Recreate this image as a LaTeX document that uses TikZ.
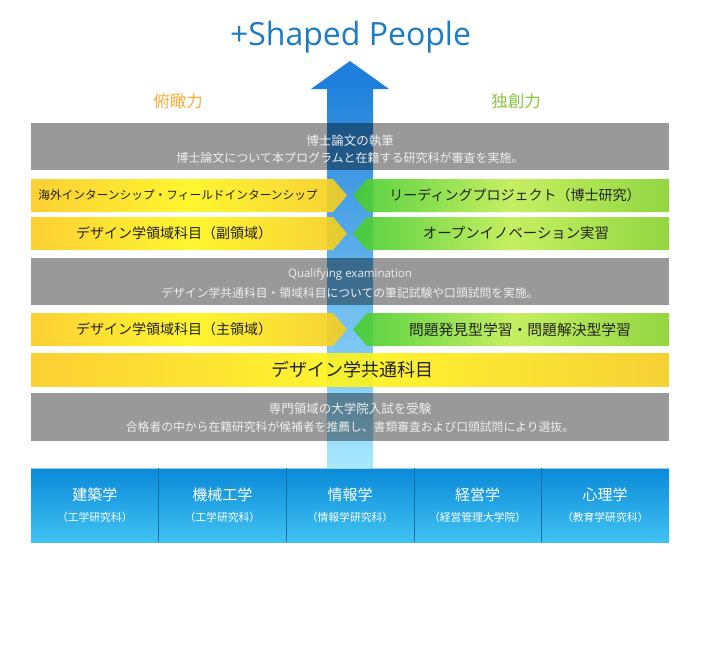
\documentclass[tikz,border=0pt]{standalone}
\usepackage{fontspec}
\setmainfont{Noto Sans CJK JP}
\newfontfamily\latinf{Open Sans}
\usetikzlibrary{shadings}
\definecolor{titleblue}{HTML}{1B7BC6}
\definecolor{headblue}{HTML}{1F7FDC}
\definecolor{shafttop}{HTML}{2282DC}
\definecolor{shaftbot}{HTML}{A8E8FE}
\definecolor{yA}{HTML}{FBCB1E}
\definecolor{yB}{HTML}{FFF51A}
\definecolor{yC}{HTML}{F6CC20}
\definecolor{gA}{HTML}{44CC2E}
\definecolor{gB}{HTML}{BFEE50}
\definecolor{gC}{HTML}{88D22E}
\definecolor{btop}{HTML}{0A8AD8}
\definecolor{bbot}{HTML}{40C2F2}
\definecolor{bdiv}{HTML}{1A6EA8}
\definecolor{orangelab}{HTML}{F8B03C}
\definecolor{greenlab}{HTML}{8CC63F}
\definecolor{graytext}{HTML}{EEEEEE}
\definecolor{bartext}{HTML}{222222}
\tikzset{
  graybox/.style={fill=black, fill opacity=0.4, draw=none},
  ybar/.style={shading=axis, left color=yA, right color=yC, middle color=yB, opacity=0.9},
  gbar/.style={shading=axis, left color=gA, right color=gC, middle color=gB, opacity=0.9},
  bluebox/.style={shading=axis, top color=btop, bottom color=bbot, draw=none},
  gtxt/.style={text=graytext, inner sep=0pt},
  btxt/.style={text=bartext, inner sep=0pt, font=\fontsize{14}{16}\selectfont},
  wtxt/.style={text=white, inner sep=0pt},
}
\begin{document}
\begin{tikzpicture}[x=1pt,y=1pt]
\useasboundingbox (0,0) rectangle (702,-649);
\fill[white] (0,0) rectangle (702,-649);

% title
\node[text=titleblue, inner sep=0pt, font=\latinf\fontsize{32}{35}\selectfont] (title) at (350.5,-37) {+Shaped People};

% labels
\node[text=orangelab, inner sep=0pt, font=\fontsize{16.5}{18}\selectfont] (fukan) at (178,-101) {俯瞰力};
\node[text=greenlab, inner sep=0pt, font=\fontsize{16.5}{18}\selectfont] (dokuso) at (516,-101) {独創力};

% arrow
\fill[headblue] (350,-61) -- (389,-89) -- (311,-89) -- cycle;
\shade[top color=shafttop, bottom color=shaftbot] (327,-88.5) rectangle (373,-468);

% gray box 1
\path[graybox] (31,-123) rectangle (669,-170);
\node[gtxt, font=\fontsize{12.5}{14}\selectfont] (g1a) at (350,-141) {博士論文の執筆};
\node[gtxt, font=\fontsize{12}{14}\selectfont] (g1b) at (350,-158) {博士論文について本プログラムと在籍する研究科が審査を実施。};

% row A
\path[ybar] (31,-179) -- (333,-179) -- (347,-195.5) -- (333,-212) -- (31,-212) -- cycle;
\path[gbar] (669,-179) -- (367,-179) -- (353,-195.5) -- (367,-212) -- (669,-212) -- cycle;
\node[btxt, font=\fontsize{11.7}{13}\selectfont] (ra1) at (178,-195.5) {海外インターンシップ・フィールドインターンシップ};
\node[btxt] (ra2) at (515,-195.5) {リーディングプロジェクト（博士研究）};

% row B
\path[ybar] (31,-217) -- (333,-217) -- (347,-233.5) -- (333,-250) -- (31,-250) -- cycle;
\path[gbar] (669,-217) -- (367,-217) -- (353,-233.5) -- (367,-250) -- (669,-250) -- cycle;
\node[btxt] (rb1) at (174,-233.5) {デザイン学領域科目（副領域）};
\node[btxt, font=\fontsize{14.4}{16}\selectfont] (rb2) at (516,-233.5) {オープンイノベーション実習};

% gray box 2
\path[graybox] (31,-258) rectangle (669,-305);
\node[gtxt, font=\latinf\fontsize{11.5}{13}\selectfont] (g2a) at (350,-274) {Qualifying examination};
\node[gtxt, font=\fontsize{11.8}{14}\selectfont] (g2b) at (350,-292.5) {デザイン学共通科目・領域科目についての筆記試験や口頭試問を実施。};

% row C
\path[ybar] (31,-313) -- (333,-313) -- (347,-329.5) -- (333,-346) -- (31,-346) -- cycle;
\path[gbar] (669,-313) -- (367,-313) -- (353,-329.5) -- (367,-346) -- (669,-346) -- cycle;
\node[btxt] (rc1) at (174,-329.5) {デザイン学領域科目（主領域）};
\node[btxt, font=\fontsize{14.8}{16}\selectfont] (rc2) at (520,-329.5) {問題発見型学習・問題解決型学習};

% big yellow bar
\path[shading=axis, left color=yA, right color=yC, middle color=yB, opacity=0.9] (31,-353) rectangle (669,-386);
\node[btxt, font=\fontsize{18}{20}\selectfont] (common) at (352,-369.5) {デザイン学共通科目};

% gray box 3
\path[graybox] (31,-393) rectangle (669,-441);
\node[gtxt, font=\fontsize{12.5}{14}\selectfont] (g3a) at (350,-409) {専門領域の大学院入試を受験};
\node[gtxt, font=\fontsize{11.8}{14}\selectfont] (g3b) at (350,-426.5) {合格者の中から在籍研究科が候補者を推薦し、書類審査および口頭試問により選抜。};

% blue boxes
\shade[bluebox] (31,-468) rectangle (669,-542);
\draw[white!60!btop, line width=0.8] (31,-468.4) -- (669,-468.4);
\foreach \xx in {158.6,286.2,413.8,541.4} {
  \draw[bdiv, line width=0.6] (\xx,-468) -- (\xx,-542);
}
\node[wtxt, font=\fontsize{15}{17}\selectfont] (d1) at (94.8,-495) {建築学};
\node[wtxt, font=\fontsize{10.8}{12}\selectfont] (d1s) at (94.8,-517) {（工学研究科）};
\node[wtxt, font=\fontsize{15}{17}\selectfont] (d2) at (222.4,-495) {機械工学};
\node[wtxt, font=\fontsize{10.8}{12}\selectfont] (d2s) at (222.4,-517) {（工学研究科）};
\node[wtxt, font=\fontsize{15}{17}\selectfont] (d3) at (350,-495) {情報学};
\node[wtxt, font=\fontsize{10.8}{12}\selectfont] (d3s) at (350,-517) {（情報学研究科）};
\node[wtxt, font=\fontsize{15}{17}\selectfont] (d4) at (477.6,-495) {経営学};
\node[wtxt, font=\fontsize{10.8}{12}\selectfont] (d4s) at (477.6,-517) {（経営管理大学院）};
\node[wtxt, font=\fontsize{15}{17}\selectfont] (d5) at (605.2,-495) {心理学};
\node[wtxt, font=\fontsize{10.8}{12}\selectfont] (d5s) at (605.2,-517) {（教育学研究科）};
\end{tikzpicture}
\end{document}
